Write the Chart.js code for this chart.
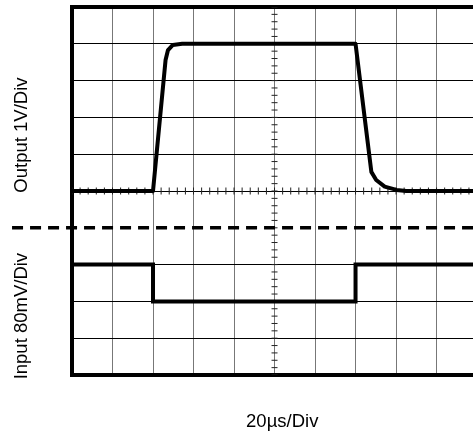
<!DOCTYPE html>
<html>
<head>
<meta charset="utf-8">
<style>
  html, body { margin: 0; padding: 0; background: #fff; }
  #wrap { width: 473px; height: 434px; }
</style>
</head>
<body>

<div id="wrap"><canvas id="scope"></canvas></div>

<script src="https://cdn.jsdelivr.net/npm/chart.js@4.4.1/dist/chart.umd.min.js"></script>
<script>
// graticule divisions (the screen is cut just before the 10th vertical line)
const xDivs = [0, 1, 2, 3, 4, 5, 6, 7, 8, 9];
const yDivs = [0, 1, 2, 3, 4, 5, 6, 7, 8, 9, 10];

// output trace, in divisions
const outX = [0, 2.0, 2.31, 2.37, 2.49, 2.72, 7.0, 7.39, 7.51, 7.72, 8.01, 8.25, 10];
const outY = [5, 5, 8.56, 8.83, 8.97, 9, 9, 5.52, 5.30, 5.12, 5.03, 5, 5];

// input trace
const inX = [0, 2, 2, 7, 7, 10];
const inY = [3, 3, 2, 2, 3, 3];

// dashed divider between the two channels
const splitX = [-1.48, 10];
const splitY = [4, 4];

const outLabel = 'Output 1V/Div';
const inLabel = 'Input 80mV/Div';
const timeLabel = '20µs/Div';

const FONT = '18.5px "Liberation Sans", Arial, sans-serif';

const toPts = (xs, ys) => xs.map((x, i) => ({ x, y: ys[i] }));

// minor graticule ticks along the two centre lines (5 per division)
const hTicks = [];
for (let i = 0; i <= 50; i++) hTicks.push({ x: i / 5, y: 5 });
const vTicks = [];
for (let i = 0; i <= 50; i++) vTicks.push({ x: 5, y: i / 5 });

const labelsPlugin = {
  id: 'scopeLabels',
  afterDraw(chart) {
    const { ctx, scales: { x, y } } = chart;
    ctx.save();
    ctx.fillStyle = '#000';
    ctx.font = FONT;
    ctx.textAlign = 'center';
    ctx.textBaseline = 'alphabetic';
    ctx.fillText(timeLabel, x.getPixelForValue(5.19), 427);

    [[outLabel, 6.52], [inLabel, 1.6]].forEach(([txt, v]) => {
      ctx.save();
      ctx.translate(27, y.getPixelForValue(v));
      ctx.rotate(-Math.PI / 2);
      ctx.fillText(txt, 0, 0);
      ctx.restore();
    });
    ctx.restore();
  }
};

const config = {
  type: 'scatter',
  data: {
    datasets: [
      {
        data: toPts(outX, outY),
        showLine: true,
        borderColor: '#000',
        borderWidth: 4,
        pointRadius: 0,
        borderJoinStyle: 'round'
      },
      {
        data: toPts(inX, inY),
        showLine: true,
        borderColor: '#000',
        borderWidth: 4,
        pointRadius: 0,
        borderJoinStyle: 'miter'
      },
      {
        data: toPts(splitX, splitY),
        showLine: true,
        borderColor: '#000',
        borderWidth: 3.5,
        borderDash: [11, 7],
        pointRadius: 0,
        clip: false
      },
      {
        data: hTicks,
        showLine: false,
        pointStyle: 'line',
        pointRadius: 3.5,
        pointRotation: 90,
        pointBorderWidth: 1,
        pointBorderColor: '#222'
      },
      {
        data: vTicks,
        showLine: false,
        pointStyle: 'line',
        pointRadius: 3,
        pointRotation: 0,
        pointBorderWidth: 1,
        pointBorderColor: '#222'
      }
    ]
  },
  options: {
    responsive: true,
    maintainAspectRatio: false,
    animation: false,
    events: [],
    layout: { autoPadding: false, padding: { left: 72, top: 7, right: 0, bottom: 59 } },
    plugins: { legend: { display: false }, tooltip: { enabled: false } },
    scales: {
      x: {
        type: 'linear',
        min: 0,
        max: 9.9,
        afterBuildTicks: s => { s.ticks = xDivs.map(v => ({ value: v })); },
        ticks: { display: false },
        grid: {
          drawTicks: false,
          color: c => (c.tick && c.tick.value === 0) ? 'rgba(0,0,0,0)' : '#777',
          lineWidth: 1
        },
        border: { display: true, color: '#000', width: 4 }
      },
      y: {
        type: 'linear',
        min: 0,
        max: 10,
        afterBuildTicks: s => { s.ticks = yDivs.map(v => ({ value: v })); },
        ticks: { display: false },
        grid: {
          drawTicks: false,
          color: c => {
            const v = c.tick && c.tick.value;
            return (v === 0 || v === 4) ? 'rgba(0,0,0,0)' : '#000';
          },
          lineWidth: c => (c.tick && c.tick.value === 10) ? 4 : 1
        },
        border: { display: true, color: '#000', width: 4 }
      }
    }
  },
  plugins: [labelsPlugin]
};

const scopeChart = new Chart(document.getElementById('scope'), config);
</script>

</body>
</html>
